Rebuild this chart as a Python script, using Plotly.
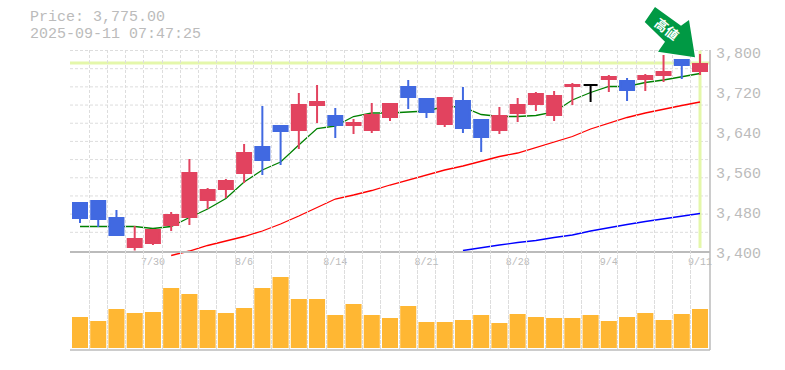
import plotly.graph_objects as go

dates_idx = [4, 9, 14, 19, 24, 29, 34]
date_labels = ["7/30", "8/6", "8/14", "8/21", "8/28", "9/4", "9/11"]
price_ticks = [3800, 3720, 3640, 3560, 3480, 3400]
price_labels = ["3,800", "3,720", "3,640", "3,560", "3,480", "3,400"]

opens = [3497,3501,3467,3405,3413,3449,3465,3499,3521,3553,3609,3651,3639,3689,3671,3649,3639,3665,3729,3705,3651,3701,3663,3639,3673,3691,3669,3727,3731,3741,3741,3741,3749,3783,3757]
highs = [3497,3501,3481,3449,3443,3477,3583,3525,3543,3613,3689,3651,3715,3731,3685,3663,3695,3695,3741,3705,3707,3727,3663,3687,3705,3717,3719,3735,3731,3751,3745,3753,3791,3783,3793]
lows = [3455,3447,3429,3399,3411,3439,3451,3483,3505,3535,3551,3571,3603,3655,3625,3633,3635,3659,3683,3665,3647,3635,3597,3633,3657,3679,3659,3691,3697,3717,3699,3719,3737,3743,3751]
closes = [3463,3461,3429,3425,3443,3473,3557,3523,3541,3597,3579,3637,3693,3699,3649,3657,3673,3695,3705,3675,3707,3643,3625,3671,3693,3715,3711,3733,3731,3749,3719,3751,3759,3769,3775]

ma_short = [3448,3448,3448,3448,3444,3448,3466,3483,3504,3537,3561,3577,3611,3644,3649,3668,3675,3675,3677,3679,3688,3687,3672,3668,3668,3670,3677,3701,3716,3728,3728,3736,3741,3748,3754]
ma_mid = [None]*5 + [3390,3399,3410,3419,3428,3439,3453,3469,3486,3503,3511,3520,3531,3541,3552,3561,3569,3578,3588,3595,3606,3618,3628,3643,3655,3666,3675,3683,3690,3697]
ma_long = [None]*21 + [3400,3406,3411,3416,3420,3426,3431,3439,3446,3452,3458,3463,3468,3474]

volumes = [31,27,39,35,36,60,54,38,35,40,60,71,49,49,33,44,33,30,42,26,26,28,33,25,34,31,30,30,33,27,31,35,28,34,39]

last_price = 3775
RED, BLUE, GREY = "#E2435F", "#4169E1", "#BBBBBB"
W, H, L, R, T, B = 785, 370, 70, 75, 50, 20
MONO = "Liberation Mono"
SPLIT = 99.5 / 300
STROKE_INSET = 2  # the 2px body outline adds 1px (2 yen) on each side of a body

def px(x): return (x - L) / (W - L - R)
def py(y): return (H - B - y) / (H - T - B)

n = len(opens)
idx = list(range(n))
fig = go.Figure()

# Moving averages sit on the first subplot, so the candles paint over them.
for vals, col in [(ma_short, "#008000"), (ma_mid, "#FF0000"), (ma_long, "#0000FF")]:
    fig.add_trace(go.Scatter(x=idx, y=vals, mode="lines", line=dict(color=col, width=1.3),
                             xaxis="x", yaxis="y", showlegend=False, connectgaps=False))

def candle(sel, color, sign):
    fig.add_trace(go.Candlestick(
        x=sel,
        open=[opens[i] + sign * STROKE_INSET for i in sel],
        high=[highs[i] for i in sel],
        low=[lows[i] for i in sel],
        close=[closes[i] - sign * STROKE_INSET for i in sel],
        increasing=dict(line=dict(color=color, width=2), fillcolor=color),
        decreasing=dict(line=dict(color=color, width=2), fillcolor=color),
        whiskerwidth=0, xaxis="x", yaxis="y2", showlegend=False))

candle([i for i in idx if closes[i] > opens[i]], RED, 1)
candle([i for i in idx if closes[i] < opens[i]], BLUE, -1)
candle([i for i in idx if closes[i] == opens[i]], "#000000", 0)

fig.add_trace(go.Bar(x=idx, y=volumes, marker=dict(color="#FFB733", line=dict(width=0)),
                     xaxis="x", yaxis="y3", showlegend=False))

shapes = []
for i in range(11):
    v = 3800 - i * 400 / 11
    shapes.append(dict(type="line", xref="paper", x0=0, x1=1, yref="y", y0=v, y1=v, layer="below",
                       line=dict(color="#DDDDDD", width=1, dash="3px,2px")))
shapes.append(dict(type="line", xref="paper", x0=0, x1=1, yref="y", y0=last_price, y1=last_price,
                   layer="below", line=dict(color="#E4F7AA", width=3)))
shapes.append(dict(type="line", xref="x", x0=34, x1=34, yref="y", y0=3800, y1=3405,
                   layer="below", line=dict(color="#E4F7AA", width=3)))
shapes.append(dict(type="line", xref="paper", x0=0, x1=1, yref="paper", y0=0, y1=0,
                   line=dict(color=GREY, width=1.5)))
shapes.append(dict(type="line", xref="paper", x0=1, x1=1, yref="paper", y0=0, y1=1,
                   line=dict(color=GREY, width=1.5)))
arrow = [(655, 7), (681, 25.7), (689, 20), (695, 57.3), (658, 51.7), (665, 41.7), (644.7, 22)]
path = "M " + " L ".join(f"{px(a):.5f},{py(b):.5f}" for a, b in arrow) + " Z"
shapes.append(dict(type="path", xref="paper", yref="paper", path=path,
                   fillcolor="#009944", line=dict(width=0)))

annotations = [
    dict(text="Price: 3,775.00", x=px(29), y=py(17.6), xref="paper", yref="paper", xanchor="left",
         yanchor="middle", showarrow=False, borderpad=0, font=dict(family=MONO, size=15, color=GREY)),
    dict(text="2025-09-11 07:47:25", x=px(29), y=py(34.6), xref="paper", yref="paper", xanchor="left",
         yanchor="middle", showarrow=False, borderpad=0, font=dict(family=MONO, size=15, color=GREY)),
    dict(text="<b>高値</b>", x=px(666.7), y=py(29), xref="paper", yref="paper", textangle=38,
         xanchor="center", yanchor="middle", showarrow=False,
         font=dict(family="Noto Sans CJK JP", size=13, color="#FFFFFF")),
]

fig.update_layout(
    width=W, height=H, margin=dict(l=L, r=R, t=T, b=B, pad=0, autoexpand=False),
    paper_bgcolor="#FFFFFF", plot_bgcolor="rgba(0,0,0,0)", showlegend=False,
    boxgap=0.233, boxgroupgap=0, bargap=0.12, hovermode=False,
    shapes=shapes, annotations=annotations,
    xaxis=dict(range=[-0.548, 34.548], anchor="y2", automargin=False,
               rangeslider=dict(visible=False), tickvals=dates_idx, ticktext=date_labels,
               tickfont=dict(family=MONO, size=10, color=GREY), ticks="", ticklabelstandoff=1,
               showgrid=False, zeroline=False, showline=True, linecolor=GREY, linewidth=1.5,
               minor=dict(dtick=1, tick0=-0.5, showgrid=True, gridcolor="#DDDDDD", gridwidth=1,
                          griddash="3px,2px", ticks="")),
    yaxis=dict(domain=[0, 1], range=[3201, 3801], visible=False, anchor="x"),
    yaxis2=dict(domain=[SPLIT, 1], range=[3400, 3801], side="right", anchor="x", tickvals=price_ticks,
                ticktext=price_labels, tickfont=dict(family=MONO, size=15, color=GREY),
                ticks="", ticklabelstandoff=5, ticklabelshift=2, showgrid=False, zeroline=False,
                automargin=False),
    yaxis3=dict(domain=[0, SPLIT], range=[-2, 97.5], visible=False, anchor="x"),
)

fig.write_html("out.html", post_script="document.body.style.margin='0';document.body.style.overflow='hidden';",
               config=dict(displayModeBar=False))
